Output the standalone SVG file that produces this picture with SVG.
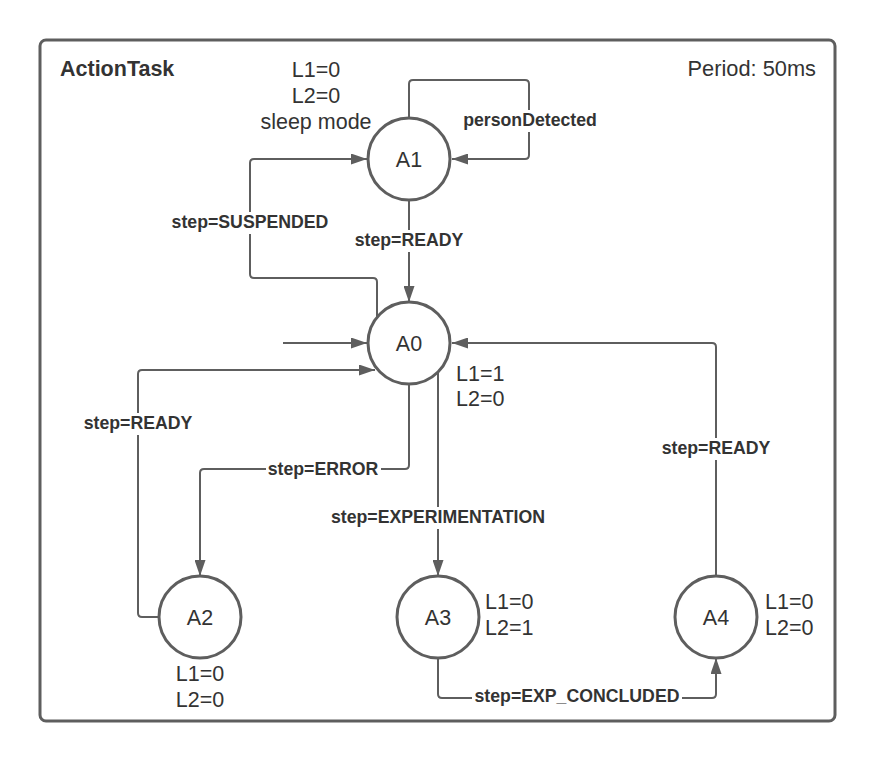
<svg xmlns="http://www.w3.org/2000/svg" width="875" height="761" viewBox="0 0 875 761">
<defs>
<marker id="arr" markerUnits="userSpaceOnUse" markerWidth="16" markerHeight="11" refX="16" refY="5.5" orient="auto">
<path d="M0,0 L16,5.5 L0,11 z" fill="#5e5e5e"/>
</marker>
<style>
.state{fill:#fff;stroke:#5e5e5e;stroke-width:3}
.name{font-family:"Liberation Sans",Arial,sans-serif;font-size:21.5px;fill:#333;text-anchor:middle}
.note{font-family:"Liberation Sans",Arial,sans-serif;font-size:21.5px;fill:#333}
.lbl{font-family:"Liberation Sans",Arial,sans-serif;font-size:17.7px;font-weight:bold;fill:#333;text-anchor:middle}
.edge{fill:none;stroke:#5e5e5e;stroke-width:2;marker-end:url(#arr)}
.bg{fill:#fff}
</style>
</defs>
<rect width="875" height="761" fill="#fff"/>
<g id="frame">
<rect x="40" y="40" width="795" height="681" rx="6" fill="#fff" stroke="#5e5e5e" stroke-width="3"/>
<text x="60" y="76" class="note" style="font-weight:bold;font-size:21.5px">ActionTask</text>
<text x="816" y="76" class="note" style="text-anchor:end;font-size:21.8px">Period: 50ms</text>
</g>
<g id="connectors">
<path class="edge" d="M409,118 V84 Q409,80 413,80 H525 Q529,80 529,84 V155 Q529,159 525,159 H452"/>
<path class="edge" d="M377,317 V282 Q377,278 373,278 H254 Q250,278 250,274 V163 Q250,159 254,159 H367"/>
<path class="edge" d="M409,200 V302"/>
<path class="edge" d="M283,343 H367"/>
<path class="edge" d="M158,617 H142 Q138,617 138,613 V374 Q138,370 142,370 H375"/>
<path class="edge" d="M409,384 V465 Q409,469 405,469 H204 Q200,469 200,473 V576"/>
<path class="edge" d="M438,372 V576"/>
<path class="edge" d="M438,658 V694 Q438,698 442,698 H712 Q716,698 716,694 V658"/>
<path class="edge" d="M716,576 V347 Q716,343 712,343 H452"/>
<rect class="bg" x="461" y="110" width="138" height="22"/>
<text class="lbl" x="530" y="126">personDetected</text>
<rect class="bg" x="169" y="212" width="163" height="22"/>
<text class="lbl" x="250" y="228">step=SUSPENDED</text>
<rect class="bg" x="353" y="230" width="112" height="22"/>
<text class="lbl" x="409" y="246">step=READY</text>
<rect class="bg" x="82" y="413" width="113" height="22"/>
<text class="lbl" x="138" y="429">step=READY</text>
<rect class="bg" x="266" y="459" width="115" height="22"/>
<text class="lbl" x="323" y="475">step=ERROR</text>
<rect class="bg" x="329" y="507" width="219" height="22"/>
<text class="lbl" x="438" y="523">step=EXPERIMENTATION</text>
<rect class="bg" x="660" y="438" width="113" height="22"/>
<text class="lbl" x="716" y="454">step=READY</text>
<rect class="bg" x="472" y="686" width="210" height="22"/>
<text class="lbl" x="577" y="702">step=EXP_CONCLUDED</text>
</g>
<g id="A1">
<circle class="state" cx="409" cy="159" r="41"/>
<text class="name" x="409" y="167">A1</text>
<text class="name" x="316" y="77">L1=0</text>
<text class="name" x="316" y="103">L2=0</text>
<text class="name" x="316" y="129">sleep mode</text>
</g>
<g id="A0">
<circle class="state" cx="409" cy="343" r="41"/>
<text class="name" x="409" y="351">A0</text>
<text class="note" x="456" y="381">L1=1</text>
<text class="note" x="456" y="406">L2=0</text>
</g>
<g id="A2">
<circle class="state" cx="200" cy="617" r="41"/>
<text class="name" x="200" y="625">A2</text>
<text class="name" x="200" y="681">L1=0</text>
<text class="name" x="200" y="707">L2=0</text>
</g>
<g id="A3">
<circle class="state" cx="438" cy="617" r="41"/>
<text class="name" x="438" y="625">A3</text>
<text class="note" x="485" y="609">L1=0</text>
<text class="note" x="485" y="635">L2=1</text>
</g>
<g id="A4">
<circle class="state" cx="716" cy="617" r="41"/>
<text class="name" x="716" y="625">A4</text>
<text class="note" x="765" y="609">L1=0</text>
<text class="note" x="765" y="635">L2=0</text>
</g>
</svg>
